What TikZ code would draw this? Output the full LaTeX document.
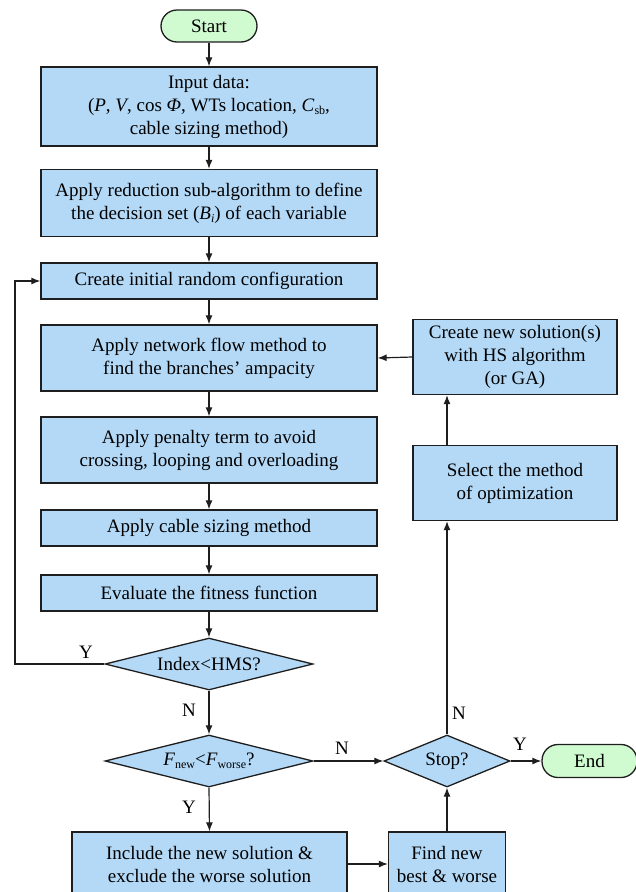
\documentclass[tikz,border=0pt]{standalone}
\usepackage{fontspec}
\setmainfont{Liberation Serif}
\usetikzlibrary{shapes.geometric,arrows.meta}
\definecolor{boxblue}{RGB}{179,217,247}
\definecolor{termgreen}{RGB}{208,250,208}
\definecolor{edgec}{RGB}{30,30,30}
\newcommand\lsub[1]{\raisebox{-0.35ex}{\fontsize{12}{12}\selectfont #1}}
\begin{document}
\begin{tikzpicture}[x=1pt,y=-1pt,
  base/.style={draw=edgec, line width=1.3pt, font=\fontsize{19}{23}\selectfont, align=center, inner sep=0pt},
  proc/.style={base, fill=boxblue, rectangle},
  term/.style={base, fill=termgreen, rounded corners=16pt},
  dec/.style={base, fill=boxblue, diamond},
  arr/.style={draw=edgec, line width=1.2pt, -{Latex[length=9pt,width=7pt]}},
  lbl/.style={font=\fontsize{19}{23}\selectfont, inner sep=0pt}]
\useasboundingbox (0,0) rectangle (636,892);
\node[term, minimum width=96, minimum height=32] (start) at (209,26) {Start};
\node[proc, minimum width=336, minimum height=79] (input) at (209,106.5)
  {Input data:\\(\textit{P}, \textit{V}, cos \textit{Φ}, WTs location, \textit{C}\lsub{sb},\\cable sizing method)};
\node[proc, minimum width=336, minimum height=67] (reduce) at (209,203)
  {Apply reduction sub-algorithm to define\\the decision set (\textit{B}\lsub{\textit{i}}) of each variable};
\node[proc, minimum width=336, minimum height=36] (init) at (209,281) {Create initial random configuration};
\node[proc, minimum width=336, minimum height=66] (netflow) at (209,358)
  {Apply network flow method to\\find the branches’ ampacity};
\node[proc, minimum width=336, minimum height=66] (penalty) at (209,450)
  {Apply penalty term to avoid\\crossing, looping and overloading};
\node[proc, minimum width=336, minimum height=36] (cablesz) at (209,528) {Apply cable sizing method};
\node[proc, minimum width=336, minimum height=36] (evalf) at (209,593) {Evaluate the fitness function};
\node[dec, aspect=4, minimum width=208, minimum height=52] (index) at (209,664) {Index<HMS?};
\node[dec, aspect=4, minimum width=208, minimum height=52] (fnew) at (209,761)
  {\textit{F}\lsub{new}<\textit{F}\lsub{worse}?};
\node[dec, aspect=2.4, minimum width=126, minimum height=52] (stop) at (447,761) {Stop?};
\node[term, minimum width=95, minimum height=33] (endn) at (589.5,761) {End};
\node[proc, minimum width=275, minimum height=64] (include) at (209.5,864)
  {Include the new solution \&\\exclude the worse solution};
\node[proc, minimum width=117, minimum height=64] (findnew) at (447,864)
  {Find new\\best \& worse};
\node[proc, minimum width=204, minimum height=75] (select) at (515,483)
  {Select the method\\of optimization};
\node[proc, minimum width=204, minimum height=75] (createnew) at (515,357)
  {Create new solution(s)\\with HS algorithm\\(or GA)};
\coordinate (loopc) at (15,664);

\draw[arr] (start) -- (input);
\draw[arr] (input) -- (reduce);
\draw[arr] (reduce) -- (init);
\draw[arr] (init) -- (netflow);
\draw[arr] (netflow) -- (penalty);
\draw[arr] (penalty) -- (cablesz);
\draw[arr] (cablesz) -- (evalf);
\draw[arr] (evalf) -- (index);
\draw[arr] (index.west) -- (loopc) |- (init.west);
\draw[arr] (index.south) -- (fnew.north);
\draw[arr] (fnew.east) -- (stop.west);
\draw[arr] (stop.east) -- (endn.west);
\draw[arr] (fnew.south) -- (include.north);
\draw[arr] (include.east) -- (findnew.west);
\draw[arr] (findnew.north) -- (stop.south);
\draw[arr] (stop.north) -- (stop.north |- select.south);
\draw[arr] (stop.north |- select.north) -- (stop.north |- createnew.south);
\draw[arr] (createnew.west) -- (netflow.east);

\node[lbl] (yidx) at (86,652) {Y};
\node[lbl] (nidx) at (189,710) {N};
\node[lbl] (nfn) at (342,748) {N};
\node[lbl] (yfn) at (189,807) {Y};
\node[lbl] (nst) at (459,713) {N};
\node[lbl] (yst) at (520,744) {Y};
\end{tikzpicture}
\end{document}
